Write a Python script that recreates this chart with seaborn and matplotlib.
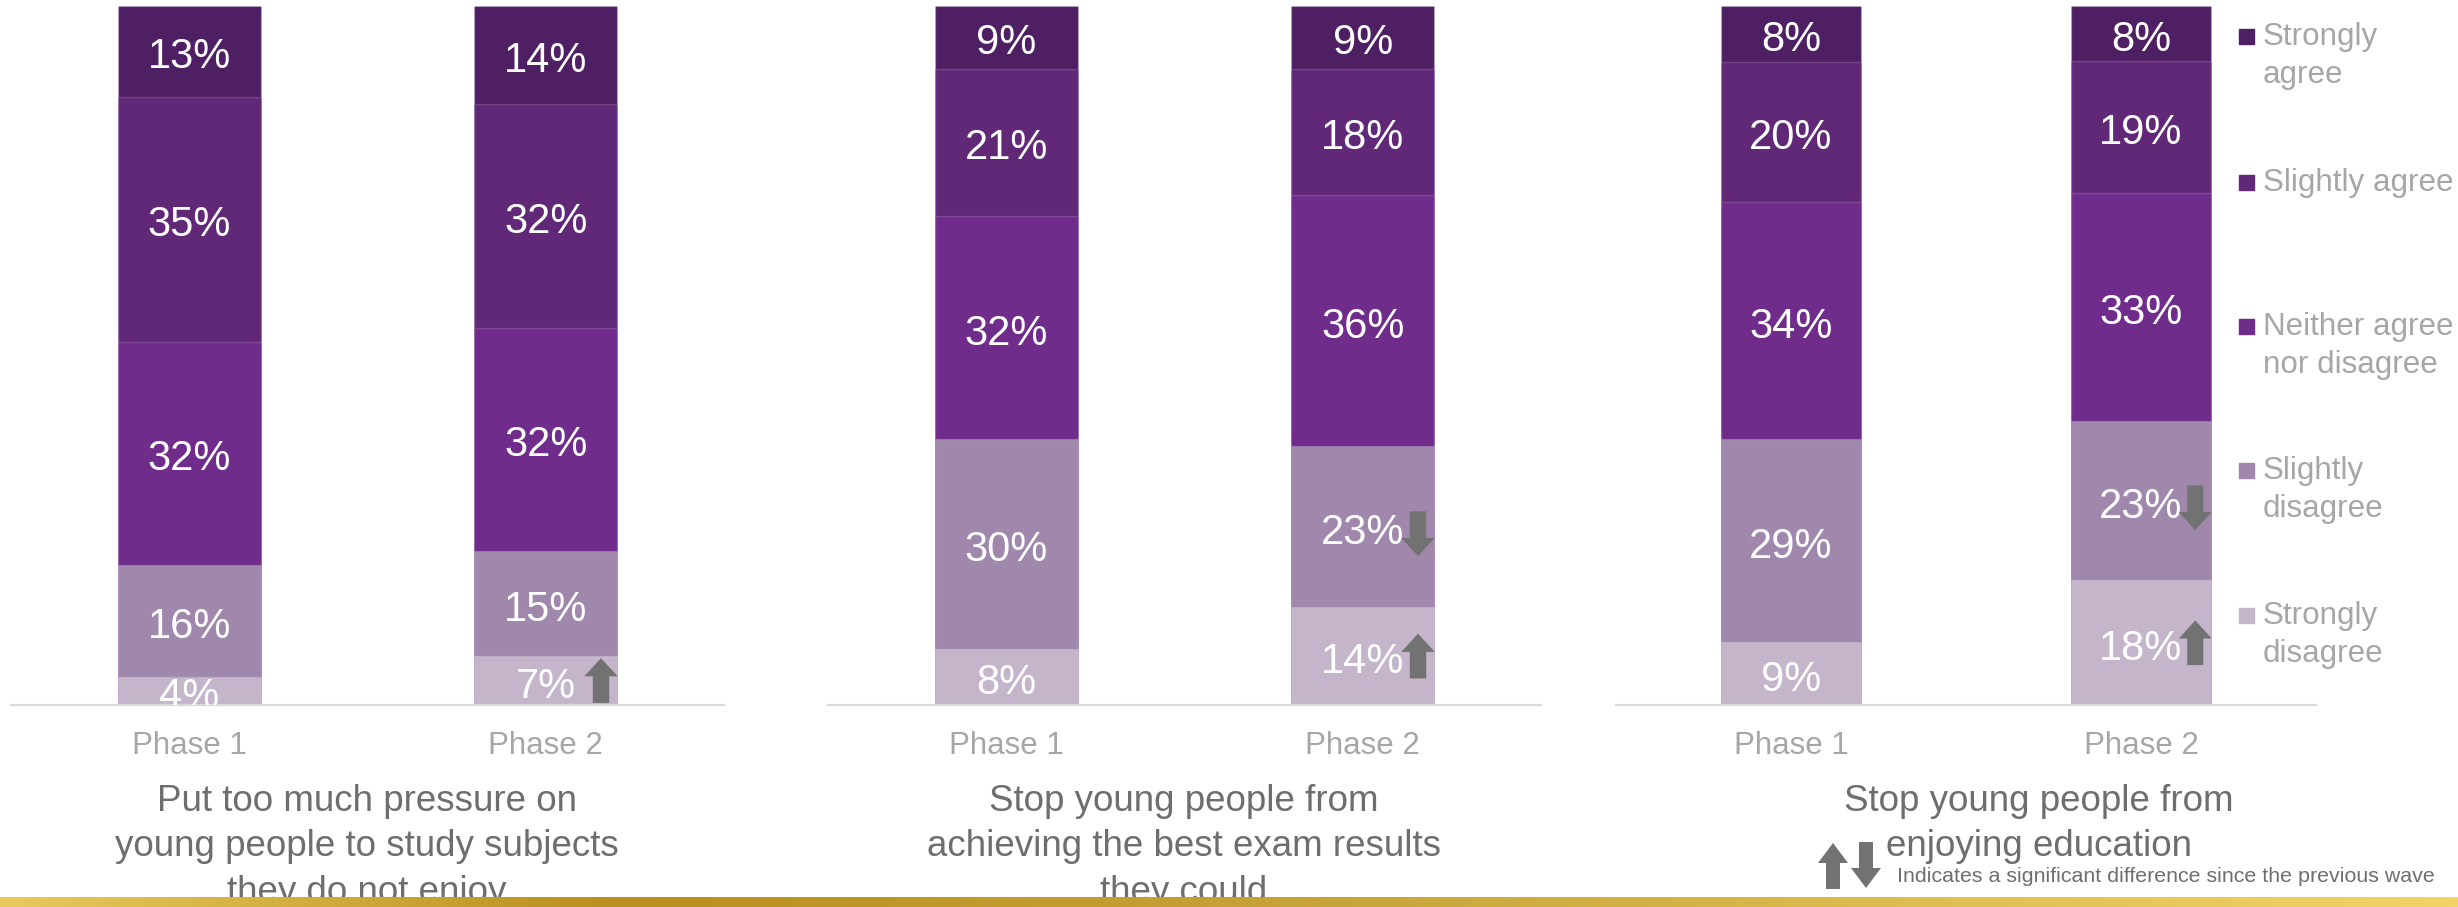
import numpy as np
import pandas as pd
import matplotlib
matplotlib.use("Agg")
import matplotlib.pyplot as plt
from matplotlib import font_manager
from matplotlib.patches import FancyArrow, Rectangle
from matplotlib.colors import LinearSegmentedColormap
import seaborn as sns

# ---------------- data ----------------
phases = ["Phase 1", "Phase 2"]
categories = ["Strongly agree", "Slightly agree", "Neither agree nor disagree",
              "Slightly disagree", "Strongly disagree"]
legend_labels = ["Strongly\nagree", "Slightly agree", "Neither agree\nnor disagree",
                 "Slightly\ndisagree", "Strongly\ndisagree"]
titles = ["Put too much pressure on\nyoung people to study subjects\nthey do not enjoy",
          "Stop young people from\nachieving the best exam results\nthey could",
          "Stop young people from\nenjoying education"]

# values per panel: [phase1, phase2], ordered as categories
pressure_p1 = [13, 35, 32, 16, 4]
pressure_p2 = [14, 32, 32, 15, 7]
exam_p1 = [9, 21, 32, 30, 8]
exam_p2 = [9, 18, 36, 23, 14]
enjoy_p1 = [8, 20, 34, 29, 9]
enjoy_p2 = [8, 19, 33, 23, 18]

# significant changes: (panel, phase, category, direction)
significance = [
    (0, "Phase 2", "Strongly disagree", "up"),
    (1, "Phase 2", "Slightly disagree", "down"),
    (1, "Phase 2", "Strongly disagree", "up"),
    (2, "Phase 2", "Slightly disagree", "down"),
    (2, "Phase 2", "Strongly disagree", "up"),
]
footnote = "Indicates a significant difference since the previous wave"

colors = ["#4F1F63", "#612878", "#6F2C8B", "#A088AC", "#C4B5CB"]
arrow_color = "#727272"

panels = [(pressure_p1, pressure_p2), (exam_p1, exam_p2), (enjoy_p1, enjoy_p2)]

# ---------------- fonts ----------------
avail = {f.name for f in font_manager.fontManager.ttflist}
narrow = "Liberation Sans Narrow" if "Liberation Sans Narrow" in avail else "Liberation Sans"

sns.set_theme(style="white")
plt.rcParams["font.family"] = ["Liberation Sans", "DejaVu Sans"]

W, H = 2458, 907
fig = plt.figure(figsize=(W / 100, H / 100), dpi=100)

axes_px = [(11, 713), (828, 713), (1616, 700)]
top_px, base_px = 6, 705

for i, ((p1, p2), (left, width)) in enumerate(zip(panels, axes_px)):
    ax = fig.add_axes([left / W, (H - base_px) / H, width / W, (base_px - top_px) / H])
    rows = []
    for ph, vals in zip(phases, (p1, p2)):
        tot = sum(vals)
        for c, v in zip(categories, vals):
            rows.append({"phase": ph, "category": c, "value": v, "share": v * 100.0 / tot})
    df = pd.DataFrame(rows)
    order_bottom_up = categories[::-1]
    df["rank"] = df["category"].map({c: k for k, c in enumerate(order_bottom_up)})
    df = df.sort_values(["phase", "rank"])
    df["top"] = df.groupby("phase")["share"].cumsum()
    df["mid"] = df["top"] - df["share"] / 2

    # draw tallest cumulative first, so lower segments overlay
    for c in categories:
        sub = df[df["category"] == c]
        sns.barplot(data=sub, x="phase", y="top", order=phases, color=colors[categories.index(c)],
                    saturation=1, width=0.4, ax=ax, edgecolor=(1, 1, 1, 0.15), linewidth=1)

    ax.set_ylim(0, 100)
    ax.set_xlim(-0.5, 1.5)
    for _, r in df.iterrows():
        x = phases.index(r["phase"])
        ax.annotate(f"{r['value']}%", (x, r["mid"]), xytext=(0, -4.3), textcoords="offset points",
                    ha="center", va="center", color="white", fontsize=30,
                    annotation_clip=True, clip_on=True,
                    family=["Liberation Sans", "DejaVu Sans"])

    for (pi, ph, c, d) in significance:
        if pi != i:
            continue
        r = df[(df["phase"] == ph) & (df["category"] == c)].iloc[0]
        x = phases.index(ph) + 0.155
        L = 6.4
        if d == "up":
            y0 = r["mid"] - L / 2
            dy = L
        else:
            y0 = r["mid"] - 1 + L / 2
            dy = -L
        ax.add_patch(FancyArrow(x, y0, 0, dy, width=0.046, head_width=0.094, head_length=2.6,
                                length_includes_head=True, color=arrow_color, lw=0, zorder=5))

    sns.despine(ax=ax, left=True)
    ax.spines["bottom"].set_color("#D9D9D9")
    ax.spines["bottom"].set_linewidth(1.6)
    ax.set_yticks([])
    ax.set_xlabel("")
    ax.set_ylabel("")
    ax.tick_params(axis="x", length=0, pad=19, labelsize=22.5, labelcolor="#A6A6A6")
    for t in ax.get_xticklabels():
        t.set_family([narrow, "DejaVu Sans"])

# titles
title_x = [367, 1184, 2039]
for tx, t in zip(title_x, titles):
    fig.text(tx / W, (H - 784) / H, t, ha="center", va="top", fontsize=26.5, color="#6E6E6E",
             family=[narrow, "DejaVu Sans"], linespacing=1.38)

# legend
leg_y = [36, 182, 326, 470, 615]
for lab, col, y in zip(legend_labels, colors, leg_y):
    fig.patches.append(Rectangle((2239 / W, (H - y - 8) / H), 15 / W, 15 / H,
                                 transform=fig.transFigure, color=col, figure=fig))
    fig.text(2263 / W, (H - y + 14) / H, lab, ha="left", va="top", fontsize=22.6,
             color="#A6A6A6", linespacing=1.36)

# overlay for decorations
ov = fig.add_axes([0, 0, 1, 1], zorder=10)
ov.patch.set_alpha(0)
gold = LinearSegmentedColormap.from_list("gold", [(0, "#E9C95C"), (0.25, "#B98F1E"),
                                                  (0.55, "#C9A43A"), (1.0, "#F2D466")])
grad = np.linspace(0, 1, 512)[None, :]
ov.imshow(grad, cmap=gold, extent=[0, W, 907, 897], aspect="auto", zorder=1)
ov.set_xlim(0, W)
ov.set_ylim(H, 0)
ov.axis("off")
ov.add_patch(FancyArrow(1833, 889, 0, -46, width=14, head_width=30, head_length=20,
                        length_includes_head=True, color=arrow_color, lw=0))
ov.add_patch(FancyArrow(1866, 842, 0, 46, width=14, head_width=30, head_length=20,
                        length_includes_head=True, color=arrow_color, lw=0))
ov.text(1897, 877, footnote, ha="left", va="center", fontsize=15.4, color="#6E6E6E",
        family=[narrow, "DejaVu Sans"])

fig.savefig("out.png", dpi=100)
